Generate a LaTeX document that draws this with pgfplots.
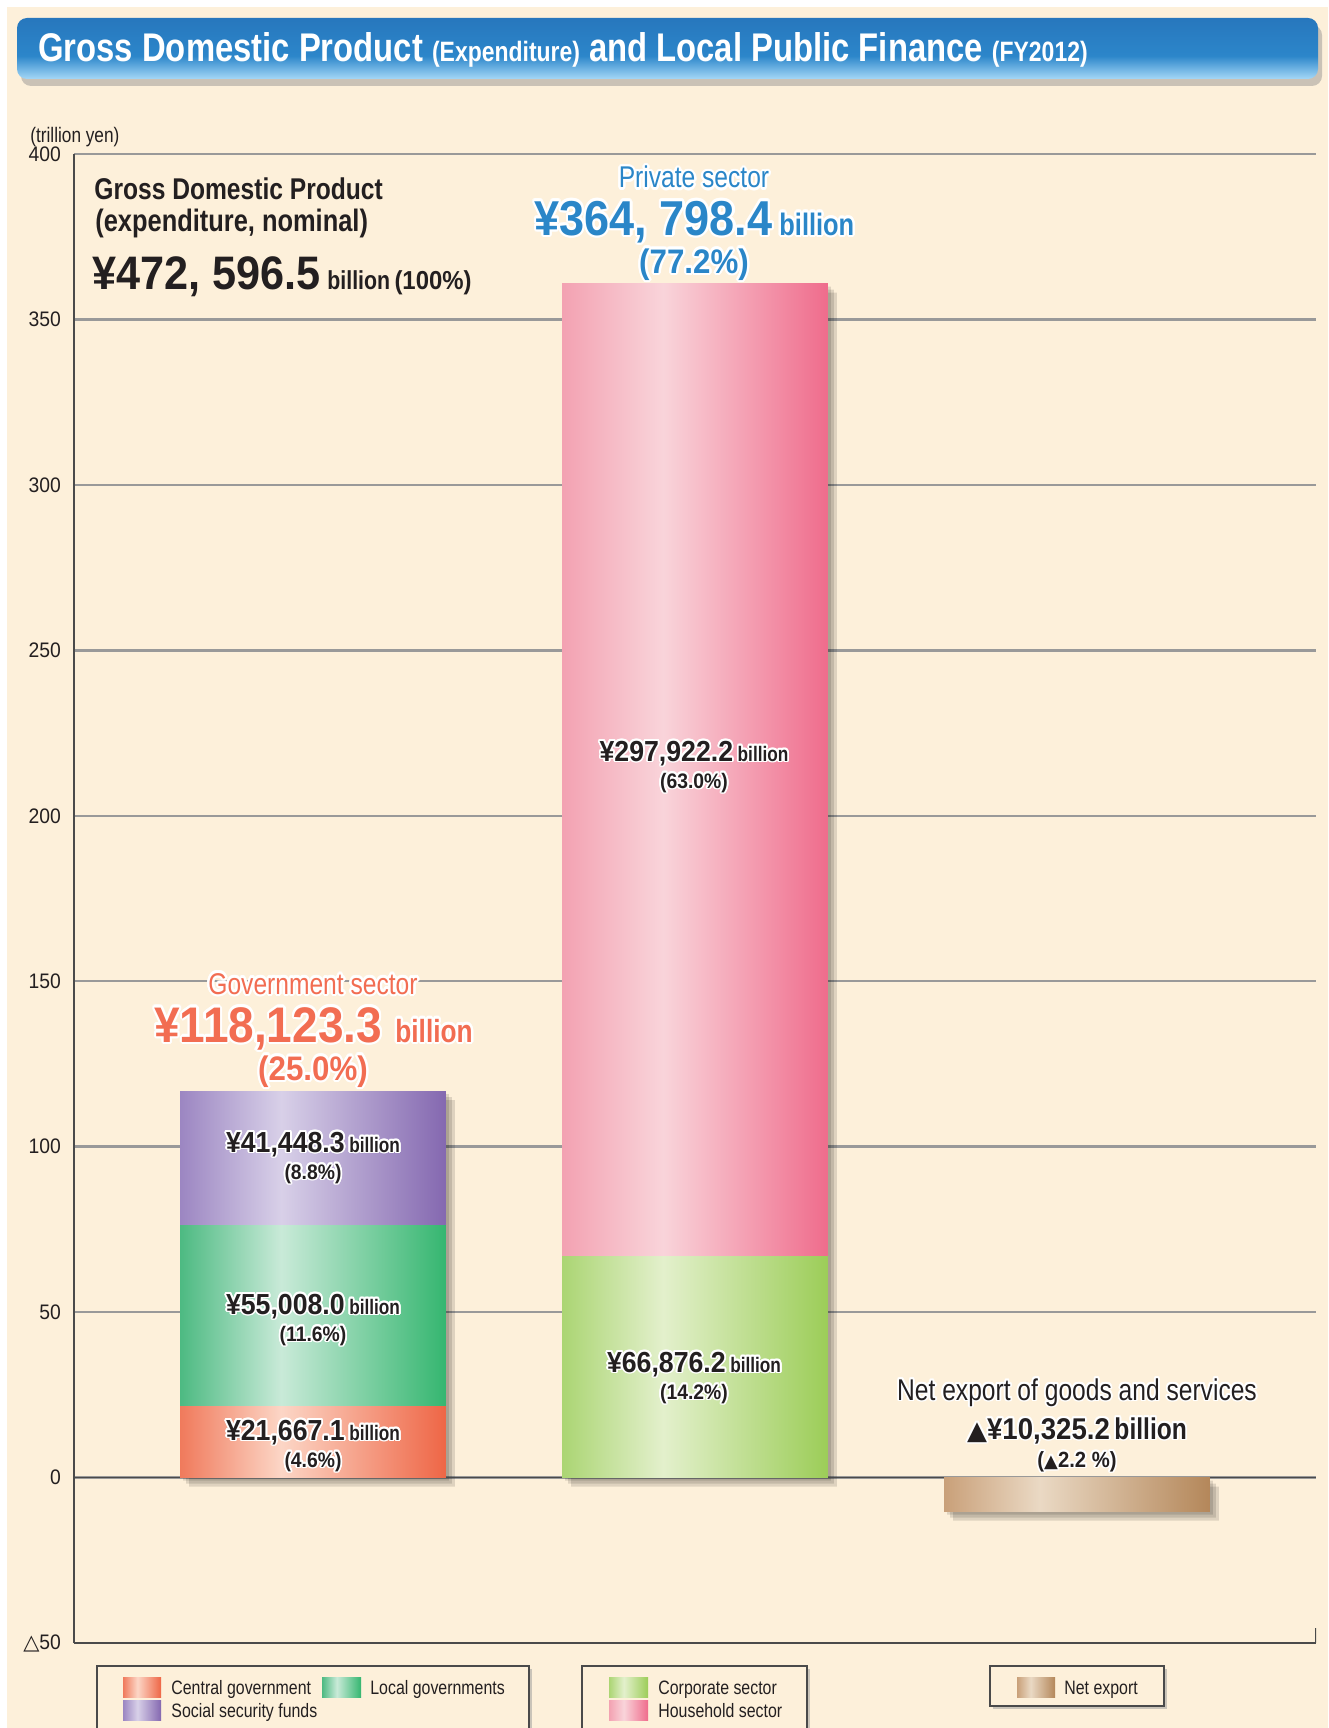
\documentclass[border=0pt]{standalone}
\usepackage{pgfplots}
\pgfplotsset{compat=1.18}
\usepackage{fontspec}
\setmainfont{Liberation Sans}[FakeStretch=0.82]
\newfontfamily\numfont{Liberation Sans}[FakeStretch=0.92]
\newfontfamily\symfont{DejaVu Sans}
\usepackage{contour}
\contourlength{0.9pt}

\definecolor{cream}{HTML}{FDF0DA}
\definecolor{tTop}{HTML}{2777BD}
\definecolor{tMid}{HTML}{2C86CA}
\definecolor{tLight}{HTML}{A5D8F7}
\definecolor{gridgray}{HTML}{999999}
\definecolor{axisdark}{HTML}{4A4A4A}
\definecolor{textdark}{HTML}{231F20}
\definecolor{govred}{HTML}{F26D52}
\definecolor{privblue}{HTML}{2A86C8}
% bar colours: left edge, highlight, right edge
\definecolor{cgA}{HTML}{F07A5C}\definecolor{cgB}{HTML}{FCD6C6}\definecolor{cgC}{HTML}{EE6646}
\definecolor{lgA}{HTML}{4DBA82}\definecolor{lgB}{HTML}{C9EAD8}\definecolor{lgC}{HTML}{35B670}
\definecolor{ssA}{HTML}{9C86C2}\definecolor{ssB}{HTML}{D8D0E8}\definecolor{ssC}{HTML}{8468B0}
\definecolor{coA}{HTML}{ABD573}\definecolor{coB}{HTML}{E3F0CC}\definecolor{coC}{HTML}{9CCD58}
\definecolor{hhA}{HTML}{F3A2B2}\definecolor{hhB}{HTML}{F9D4DA}\definecolor{hhC}{HTML}{EF6C8C}
\definecolor{neA}{HTML}{C9A079}\definecolor{neB}{HTML}{EAD9C4}\definecolor{neC}{HTML}{B4875A}

\pgfdeclarehorizontalshading{shCentral}{100bp}{color(0bp)=(cgA); color(25bp)=(cgA); color(44bp)=(cgB); color(75bp)=(cgC); color(100bp)=(cgC)}
\pgfdeclarehorizontalshading{shLocal}{100bp}{color(0bp)=(lgA); color(25bp)=(lgA); color(44bp)=(lgB); color(75bp)=(lgC); color(100bp)=(lgC)}
\pgfdeclarehorizontalshading{shSocial}{100bp}{color(0bp)=(ssA); color(25bp)=(ssA); color(44bp)=(ssB); color(75bp)=(ssC); color(100bp)=(ssC)}
\pgfdeclarehorizontalshading{shCorp}{100bp}{color(0bp)=(coA); color(25bp)=(coA); color(44bp)=(coB); color(75bp)=(coC); color(100bp)=(coC)}
\pgfdeclarehorizontalshading{shHouse}{100bp}{color(0bp)=(hhA); color(25bp)=(hhA); color(44bp)=(hhB); color(75bp)=(hhC); color(100bp)=(hhC)}
\pgfdeclarehorizontalshading{shNet}{100bp}{color(0bp)=(neA); color(25bp)=(neA); color(43bp)=(neB); color(75bp)=(neC); color(100bp)=(neC)}
\pgfdeclareverticalshading{shTitle}{100bp}{color(0bp)=(tLight); color(25bp)=(tLight); color(44bp)=(tMid); color(75bp)=(tTop); color(100bp)=(tTop)}

\pgfplotsset{
  base/.style={
    scale only axis, width=621pt, height=744.5pt,
    at={(37pt,-821.5pt)}, anchor=south west,
    xmin=0.374, xmax=3.626, ymin=-50, ymax=400,
  },
  layer/.style={base, hide axis, bar width=0.696},
}
\newcommand\fs[1]{\fontsize{#1}{#1}\selectfont}

\begin{document}
\begin{tikzpicture}

\begin{scope}[x=0.5pt,y=-0.5pt]
  \fill[white] (0,0) rectangle (1328,1728);
  \fill[cream] (7,7) rectangle (1328,1728);
  % title bar
  \fill[black!45, opacity=0.45, rounded corners=5pt] (21,25) rectangle (1322,86);
  \shade[shading=shTitle, rounded corners=5pt] (17,18) rectangle (1318,79);
  \node[anchor=base west, inner sep=0pt, text=white] at (38,62)
    {\bfseries\fs{20}Gross Domestic Product {\fs{14}(Expenditure)} and Local Public Finance {\fs{14}(FY2012)}};
  \node[anchor=base west, inner sep=0pt, text=textdark] at (30,143) {\fs{10.5}(trillion yen)};
\end{scope}

% grid, frame, bar shadows (bar heights as drawn in the picture)
\begin{axis}[base,
  axis lines*=left,
  axis line style={draw=axisdark, line width=0.7pt, -},
  xtick=\empty,
  ytick={-50,0,50,...,400},
  yticklabels={{\symfont △}50,0,50,100,150,200,250,300,350,400},
  major tick length=0pt,
  ymajorgrids,
  grid style={draw=gridgray, line width=1.2pt},
  yticklabel style={font=\numfont\fs{10.5}, text=textdark, xshift=-3pt},
]
\addplot[ybar, bar width=0.696, draw=none, fill=black, opacity=0.12, xshift=1.5pt, yshift=-1.5pt]
  coordinates {(1,116.8)(2,360.8)(3,-10.3)};
\addplot[ybar, bar width=0.696, draw=none, fill=black, opacity=0.12, xshift=3pt, yshift=-3pt]
  coordinates {(1,116.8)(2,360.8)(3,-10.3)};
\addplot[ybar, bar width=0.696, draw=none, fill=black, opacity=0.12, xshift=4.5pt, yshift=-4.5pt]
  coordinates {(1,116.8)(2,360.8)(3,-10.3)};
\draw[axisdark, line width=0.8pt] (axis cs:0.374,0) -- (axis cs:3.626,0);
\draw[axisdark, line width=0.7pt] (axis cs:3.626,-50) -- (axis cs:3.626,-45.5);
\end{axis}

% government sector
\begin{axis}[layer, ybar stacked]
\addplot[draw=none, shade, shading=shCentral] coordinates {(1,21.6)};
\addplot[draw=none, shade, shading=shLocal] coordinates {(1,54.6)};
\addplot[draw=none, shade, shading=shSocial] coordinates {(1,40.6)};
\draw[white, line width=1pt] (axis cs:0.652,21.6) -- (axis cs:1.348,21.6);
\draw[white, line width=1pt] (axis cs:0.652,76.2) -- (axis cs:1.348,76.2);
\end{axis}

% private sector
\begin{axis}[layer, ybar stacked]
\addplot[draw=none, shade, shading=shCorp] coordinates {(2,66.7)};
\addplot[draw=none, shade, shading=shHouse] coordinates {(2,294.1)};
\draw[white, line width=1pt] (axis cs:1.652,66.7) -- (axis cs:2.348,66.7);
\end{axis}

% net export
\begin{axis}[layer, ybar]
\addplot[draw=none, shade, shading=shNet] coordinates {(3,-10.3)};
\end{axis}

\begin{scope}[x=0.5pt,y=-0.5pt]
  % GDP block
  \node[anchor=base west, inner sep=0pt, text=textdark] at (94,200) {\bfseries\fs{15}Gross Domestic Product};
  \node[anchor=base west, inner sep=0pt, text=textdark] at (95,232) {\bfseries\fs{15.5}(expenditure, nominal)};
  \node[anchor=base west, inner sep=0pt, text=textdark] at (92,289) {\bfseries\numfont\fs{23.5}¥472, 596.5};
  \node[anchor=base west, inner sep=0pt, text=textdark] at (327,289) {\bfseries\fs{13}billion\,{\numfont(100\%)}};

  % private sector header
  \contourlength{1.2pt}
  \node[anchor=base, inner sep=0pt, text=privblue] at (694,188) {\contour{white}{\fs{15}Private sector}};
  \node[anchor=base west, inner sep=0pt, text=privblue] at (534,235) {\contour{white}{\bfseries\numfont\fs{24.5}¥364, 798.4}};
  \node[anchor=base west, inner sep=0pt, text=privblue] at (779,235) {\contour{white}{\bfseries\fs{15.5}billion}};
  \node[anchor=base, inner sep=0pt, text=privblue] at (694,273) {\contour{white}{\bfseries\numfont\fs{17}(77.2\%)}};

  % government sector header
  \node[anchor=base, inner sep=0pt, text=govred] at (313,994) {\contour{white}{\fs{15}Government sector}};
  \node[anchor=base west, inner sep=0pt, text=govred] at (154,1042) {\contour{white}{\bfseries\numfont\fs{25}¥118,123.3}};
  \node[anchor=base west, inner sep=0pt, text=govred] at (395,1042) {\contour{white}{\bfseries\fs{16}billion}};
  \node[anchor=base, inner sep=0pt, text=govred] at (313,1080) {\contour{white}{\bfseries\numfont\fs{17}(25.0\%)}};

  % labels inside bars
  \contourlength{0.9pt}
  \foreach \x/\y/\v/\p in {694/761/297{,}922.2/63.0, 313/1152/41{,}448.3/8.8, 313/1314/55{,}008.0/11.6,
                           313/1440/21{,}667.1/4.6, 694/1372/66{,}876.2/14.2}{
    \node[anchor=base, inner sep=0pt, text=textdark] at (\x,\y)
      {\contour{white}{\bfseries{\numfont\fs{14.5}¥\v} \fs{10.5}billion}};
    \node[anchor=base, inner sep=0pt, text=textdark] at (\x,\y+27)
      {\contour{white}{\bfseries\numfont\fs{10.5}(\p\%)}};
  }

  % net export
  \node[anchor=base, inner sep=0pt, text=textdark] at (1077,1400) {\contour{white}{\fs{15}Net export of goods and services}};
  \node[anchor=base, inner sep=0pt, text=textdark] at (1077,1439) {\contour{white}{\bfseries{\symfont\fs{13}▲}{\numfont\fs{15}¥10,325.2} \fs{15}billion}};
  \node[anchor=base, inner sep=0pt, text=textdark] at (1077,1467) {\contour{white}{\bfseries\numfont\fs{11}({\symfont\fs{9}▲}2.2 \%)}};

  % legend boxes
  \begin{scope}[every node/.style={anchor=base west, inner sep=0pt, text=textdark, font=\fs{9.7}}]
    \fill[black!40, opacity=0.5] (100,1669) rectangle (532,1740);
    \filldraw[fill=cream, draw=axisdark, line width=0.6pt] (97,1666) rectangle (529,1740);
    \fill[black!40, opacity=0.5] (585,1669) rectangle (810,1740);
    \filldraw[fill=cream, draw=axisdark, line width=0.6pt] (582,1666) rectangle (807,1740);
    \fill[black!40, opacity=0.5] (993,1669) rectangle (1167,1709);
    \filldraw[fill=cream, draw=axisdark, line width=0.6pt] (990,1666) rectangle (1164,1706);

    \shade[shading=shCentral] (123,1677) rectangle (161,1697);
    \node at (171,1694) {Central government};
    \shade[shading=shLocal] (322,1677) rectangle (361,1697);
    \node at (370,1694) {Local governments};
    \shade[shading=shSocial] (123,1700) rectangle (161,1720);
    \node at (171,1717) {Social security funds};
    \shade[shading=shCorp] (609,1677) rectangle (648,1697);
    \node at (658,1694) {Corporate sector};
    \shade[shading=shHouse] (609,1700) rectangle (648,1720);
    \node at (658,1717) {Household sector};
    \shade[shading=shNet] (1017,1677) rectangle (1055,1697);
    \node at (1064,1694) {Net export};
  \end{scope}
\end{scope}
\pgfresetboundingbox
\useasboundingbox (0,0) rectangle (664pt,-864pt);
\end{tikzpicture}
\end{document}
